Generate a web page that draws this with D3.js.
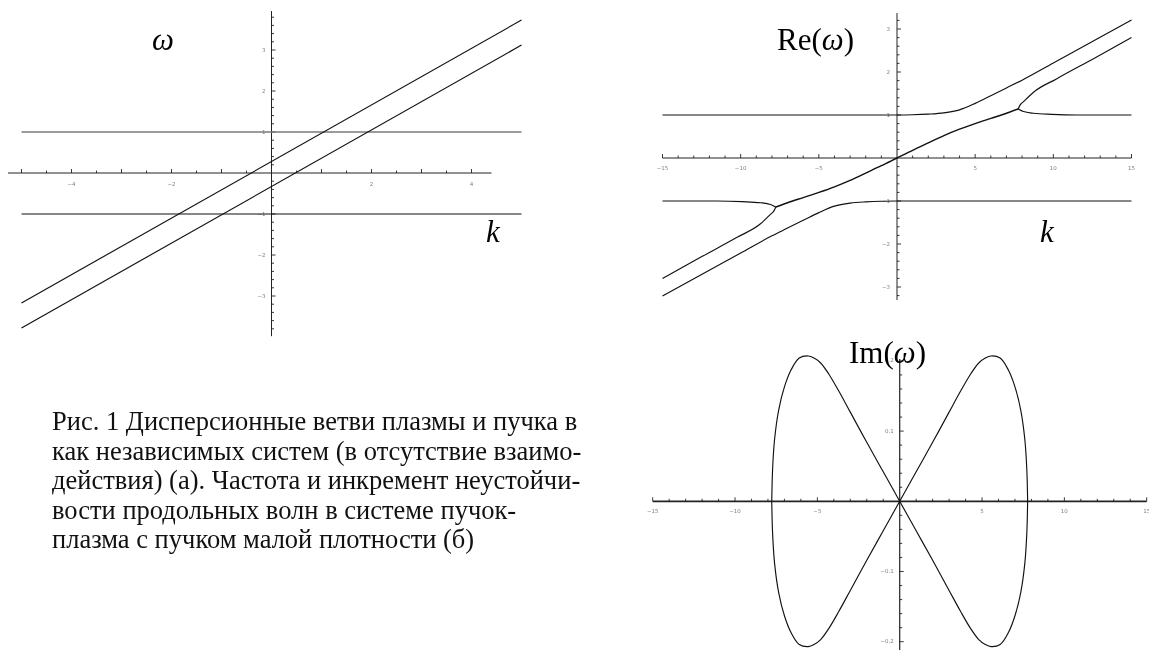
<!DOCTYPE html>
<html>
<head>
<meta charset="utf-8">
<script src="https://cdn.jsdelivr.net/npm/d3@7"></script>
<style>
  html, body { margin: 0; background: #fff; }
  svg { display: block; filter: grayscale(1); }
</style>
</head>
<body>
<svg id="fig" width="1149" height="650"></svg>
<script>
// ---- (a) independent branches: plasma ω = ±1, beam ω = kv ± ω_b ----
const leftK          = [-5, 5];
const leftPlasmaUp   = [1, 1];
const leftPlasmaDown = [-1, -1];
const leftBeamFast   = [-3.17, 3.73];
const leftBeamSlow   = [-3.78, 3.12];
const leftXLabels    = [-4, -2, 2, 4];
const leftYLabels    = [-3, -2, -1, 1, 2, 3];

// ---- (б) Re(ω) of the coupled beam–plasma system ----
const reTopK     = [-15, -10, -5, -2, 0, 1, 2, 3, 4, 5, 6, 7, 8, 10, 12.5, 15];
const reTopW     = [1, 1, 1, 1, 1, 1.005, 1.02, 1.05, 1.12, 1.27, 1.45, 1.63, 1.81, 2.21, 2.71, 3.21];
const reBottomK  = [-15, -12.5, -10, -8, -7, -6, -5, -4, -3, -2, -1, 0, 2, 5, 10, 15];
const reBottomW  = [-3.21, -2.71, -2.21, -1.81, -1.63, -1.45, -1.27, -1.12, -1.05, -1.02, -1.005, -1, -1, -1, -1, -1];
const reMidK     = [-7.75, -7, -6, -5, -4, -3, -2, -1, 0, 1, 2, 3, 4, 5, 6, 7, 7.75];
const reMidW     = [-1.14, -1.04, -0.92, -0.8, -0.67, -0.52, -0.35, -0.18, 0, 0.18, 0.35, 0.52, 0.67, 0.8, 0.92, 1.04, 1.14];
const reForkUpRK   = [7.75, 7.87, 8.09, 8.73, 10.2, 12.57, 15];
const reForkUpRW   = [1.14, 1.23, 1.31, 1.53, 1.84, 2.31, 2.8];
const reForkDnRK   = [7.75, 8.09, 8.73, 9.9, 11.5, 15];
const reForkDnRW   = [1.14, 1.08, 1.04, 1.015, 1, 1];
const reForkDnLK   = [-15, -12.57, -10.2, -8.73, -8.09, -7.87, -7.75];
const reForkDnLW   = [-2.8, -2.31, -1.84, -1.53, -1.31, -1.23, -1.14];
const reForkUpLK   = [-15, -11.5, -9.9, -8.73, -8.09, -7.75];
const reForkUpLW   = [-1, -1, -1.015, -1.04, -1.08, -1.14];
const reXLabels    = [-15, -10, -5, 5, 10, 15];
const reYLabels    = [-3, -2, -1, 1, 2, 3];

// ---- (б) Im(ω): growth rate of the unstable pair ----
const imRightK = [0, 1, 2, 3, 3.7, 4.3, 4.8, 5.2, 5.55, 6.1, 6.6, 7.0, 7.35, 7.6, 7.72, 7.77];
const imLeftK  = [0, -1, -2, -3, -3.7, -4.3, -4.8, -5.2, -5.55, -6.1, -6.6, -7.0, -7.35, -7.6, -7.72, -7.77];
const imGrowth = [0, 0.042, 0.084, 0.127, 0.157, 0.181, 0.197, 0.204, 0.207, 0.204, 0.187, 0.163, 0.13, 0.088, 0.045, 0];
const imDamp   = [0, -0.042, -0.084, -0.127, -0.157, -0.181, -0.197, -0.204, -0.207, -0.204, -0.187, -0.163, -0.13, -0.088, -0.045, 0];
const imXLabels = [-15, -10, -5, 5, 10, 15];
const imYLabels = [-0.2, -0.1, 0.1, 0.2];

const captionLines = [
  "Рис. 1 Дисперсионные ветви плазмы и пучка в",
  "как независимых систем (в отсутствие взаимо-",
  "действия) (а). Частота и инкремент неустойчи-",
  "вости продольных волн в системе пучок-",
  "плазма с пучком малой плотности (б)"
];

const svg = d3.select("#fig");
const zip = (ks, ws) => ks.map((k, i) => [k, ws[i]]);

// Axes through the origin: ticks inside the first quadrant, tiny grey labels.
function axes(g, x, y, c) {
  const x0 = x(0), y0 = y(0);
  const ax = g.append("g").attr("stroke", "#222").attr("stroke-width", c.axisWidth || 1);
  ax.append("line").attr("x1", x(c.xSpan[0])).attr("x2", x(c.xSpan[1]))
    .attr("y1", y0).attr("y2", y0).attr("stroke-width", c.xAxisWidth || c.axisWidth || 1);
  ax.append("line").attr("x1", x0).attr("x2", x0)
    .attr("y1", y(c.ySpan[0])).attr("y2", y(c.ySpan[1]));

  const eps = 1e-9;
  const xt = d3.range(Math.ceil(c.xSpan[0] / c.xStep - eps), Math.floor(c.xSpan[1] / c.xStep + eps) + 1)
    .map(i => +(i * c.xStep).toFixed(6)).filter(v => Math.abs(v) > eps);
  const yt = d3.range(Math.ceil(Math.min(...c.ySpan) / c.yStep - eps), Math.floor(Math.max(...c.ySpan) / c.yStep + eps) + 1)
    .map(i => +(i * c.yStep).toFixed(6)).filter(v => Math.abs(v) > eps);
  const isMajor = (v, m) => Math.abs(v / m - Math.round(v / m)) < 1e-6;

  ax.selectAll(null).data(xt).join("line")
    .attr("x1", d => x(d)).attr("x2", d => x(d))
    .attr("y1", y0).attr("y2", d => y0 - (isMajor(d, c.xMajor) ? 4 : 2.5))
    .attr("stroke-width", 0.9);
  ax.selectAll(null).data(yt).join("line")
    .attr("y1", d => y(d)).attr("y2", d => y(d))
    .attr("x1", x0).attr("x2", d => x0 + (isMajor(d, c.yMajor) ? 4 : 2.5))
    .attr("stroke-width", 0.9);

  const lab = g.append("g").attr("font-family", "'DejaVu Sans', sans-serif")
    .attr("font-size", 5.5).attr("fill", "#808080");
  lab.selectAll(null).data(c.xLabels).join("text")
    .attr("x", d => x(d)).attr("y", y0 + c.xLabelDy)
    .attr("text-anchor", "middle").attr("dominant-baseline", "middle")
    .text(d => d3.format(c.fmt)(d).replace("-", "\u2212"));
  lab.selectAll(null).data(c.yLabels).join("text")
    .attr("x", x0 - c.yLabelDx).attr("y", d => y(d))
    .attr("text-anchor", "end").attr("dominant-baseline", "middle")
    .text(d => d3.format(c.yFmt || c.fmt)(d).replace("-", "\u2212"));
}

function curve(g, x, y, pts, opts = {}) {
  const line = d3.line().x(d => x(d[0])).y(d => y(d[1])).curve(opts.curve || d3.curveMonotoneX);
  g.append("path").attr("d", line(pts)).attr("fill", "none")
    .attr("stroke", opts.stroke || "#111").attr("stroke-width", opts.width || 1.15)
    .attr("stroke-linejoin", "round");
}

const serif = "'Liberation Serif', 'Times New Roman', serif";

// ================= (a) =================
{
  const x = d3.scaleLinear().domain([-5, 5]).range([21.5, 521.5]);
  const y = d3.scaleLinear().domain([-4, 4]).range([337, 9]);
  const g = svg.append("g");
  axes(g, x, y, {
    xSpan: [-5.27, 4.4], ySpan: [-3.98, 3.95],
    xStep: 0.5, xMajor: 1, yStep: 0.2, yMajor: 1,
    xLabels: leftXLabels, yLabels: leftYLabels, fmt: "d",
    xLabelDy: 11, yLabelDx: 6
  });
  curve(g, x, y, zip(leftK, leftPlasmaUp), { curve: d3.curveLinear, stroke: "#7a7a7a", width: 1.6 });
  curve(g, x, y, zip(leftK, leftPlasmaDown), { curve: d3.curveLinear, stroke: "#111", width: 1.2 });
  curve(g, x, y, zip(leftK, leftBeamFast), { curve: d3.curveLinear });
  curve(g, x, y, zip(leftK, leftBeamSlow), { curve: d3.curveLinear });

  g.append("text").attr("x", 152).attr("y", 50)
    .attr("font-family", serif).attr("font-style", "italic").attr("font-size", 31).text("ω");
  g.append("text").attr("x", 486).attr("y", 242)
    .attr("font-family", serif).attr("font-style", "italic").attr("font-size", 31).text("k");
}

// ================= (б) Re(ω) =================
{
  const x = d3.scaleLinear().domain([-15, 15]).range([662.5, 1131.5]);
  const y = d3.scaleLinear().domain([-3, 3]).range([287, 29]);
  const g = svg.append("g");
  axes(g, x, y, {
    xSpan: [-15, 15], ySpan: [y.invert(300), y.invert(13)],
    xStep: 1, xMajor: 5, yStep: 0.2, yMajor: 1,
    xLabels: reXLabels, yLabels: reYLabels, fmt: "d",
    xLabelDy: 10, yLabelDx: 7
  });
  curve(g, x, y, zip(reTopK, reTopW));
  curve(g, x, y, zip(reBottomK, reBottomW));
  curve(g, x, y, zip(reMidK, reMidW), { width: 1.4 });
  curve(g, x, y, zip(reForkUpRK, reForkUpRW));
  curve(g, x, y, zip(reForkDnRK, reForkDnRW));
  curve(g, x, y, zip(reForkDnLK, reForkDnLW));
  curve(g, x, y, zip(reForkUpLK, reForkUpLW));

  const t = g.append("text").attr("x", 777).attr("y", 50)
    .attr("font-family", serif).attr("font-size", 31);
  t.append("tspan").text("Re(");
  t.append("tspan").attr("font-style", "italic").text("ω");
  t.append("tspan").text(")");
  g.append("text").attr("x", 1040).attr("y", 242)
    .attr("font-family", serif).attr("font-style", "italic").attr("font-size", 31).text("k");
}

// ================= (б) Im(ω) =================
{
  const x = d3.scaleLinear().domain([-15, 15]).range([652.7, 1146.7]);
  const y = d3.scaleLinear().domain([-0.2, 0.2]).range([641.7, 360.9]);
  const g = svg.append("g");
  axes(g, x, y, {
    xSpan: [-15, 15], ySpan: [y.invert(650), y.invert(359)],
    xStep: 1, xMajor: 5, yStep: 0.02, yMajor: 0.1,
    xLabels: imXLabels, yLabels: imYLabels, fmt: "d", yFmt: ".1f",
    xLabelDy: 10, yLabelDx: 6, xAxisWidth: 1.8, axisWidth: 1.2
  });
  const cr = d3.curveCatmullRom.alpha(0.5);
  curve(g, x, y, zip(imRightK, imGrowth), { curve: cr });
  curve(g, x, y, zip(imLeftK, imGrowth), { curve: cr });
  curve(g, x, y, zip(imRightK, imDamp), { curve: cr });
  curve(g, x, y, zip(imLeftK, imDamp), { curve: cr });

  const t = g.append("text").attr("x", 849).attr("y", 363)
    .attr("font-family", serif).attr("font-size", 31);
  t.append("tspan").text("Im(");
  t.append("tspan").attr("font-style", "italic").text("ω");
  t.append("tspan").text(")");
}

// ================= caption =================
svg.append("g").attr("font-family", serif).attr("font-size", 26.5).attr("fill", "#111")
  .selectAll("text").data(captionLines).join("text")
  .attr("x", 52).attr("y", (d, i) => 430 + i * 29.5)
  .text(d => d);
</script>
</body>
</html>
